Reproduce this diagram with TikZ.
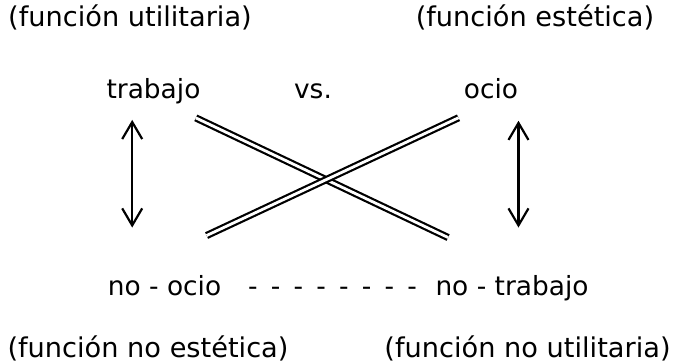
\documentclass[tikz,border=0pt]{standalone}
\usepackage{fontspec}
\setmainfont{DejaVu Sans}
\usetikzlibrary{arrows.meta,positioning}
\usetikzlibrary{calc}

\begin{document}
\begin{tikzpicture}[
      x=0.5pt,y=-0.5pt,
      mylabel/.style={
         inner sep=0pt,
         anchor=base,
         font=\fontsize{13.2}{15}\selectfont},
      myfunc/.style={
         mylabel,
         font=\fontsize{13.6}{16}\selectfont},
      myarrow/.style={
         {Straight Barb[length=8.5pt,width=10pt]}-{Straight Barb[length=8.5pt,width=10pt]},
         line width=1.1pt},
      mydouble/.style={
         double,
         double distance=1.4pt,
         line width=1.1pt}
      ]
      \useasboundingbox (0,0) rectangle (674,363);

      \node[myfunc] (futil) at (130,27) {(función utilitaria)};
      \node[myfunc] (festet) at (535,27) {(función estética)};

      \node[mylabel] (trabajo) at (153.5,99) {trabajo};
      \node[mylabel] (vs) at (313,99) {vs.};
      \node[mylabel] (ocio) at (491,99) {ocio};

      \node[mylabel] (noocio) at (164.5,295) {no - ocio};
      \node[mylabel,font={\fontsize{13.2}{15}\selectfont\spaceskip=0.5em}] (guiones) at (332.5,295) {- - - - - - - -};
      \node[mylabel] (notrabajo) at (512,295) {no - trabajo};

      \node[myfunc] (fnoestet) at (148,357) {(función no estética)};
      \node[myfunc] (fnoutil) at (527.5,357) {(función no utilitaria)};

      % the two crossed double lines
      \draw[mydouble] ($(trabajo.south east)+(-5,13)$) -- ($(notrabajo.north west)+(13,-37)$);
      \draw[mydouble] ($(noocio.north east)+(-15,-39)$) -- ($(ocio.south west)+(-5,18)$);

      % up and down arrows
      \draw[myarrow] ($(trabajo.south west)+(26,15)$) -- ($(trabajo.south west |- noocio.north)+(26,-47)$);
      \draw[myarrow] ($(ocio.south east)+(0,21)$) -- ($(ocio.south east |- notrabajo.north)+(0,-47)$);

    \end{tikzpicture}
\end{document}
